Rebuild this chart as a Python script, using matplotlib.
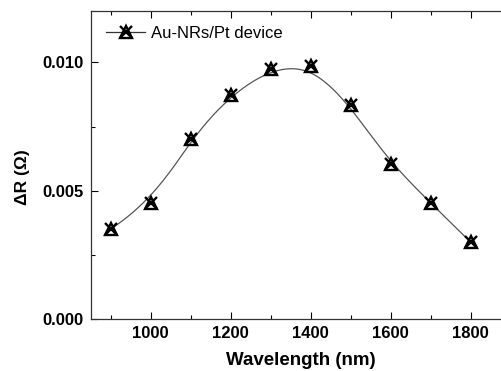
import numpy as np
import matplotlib
matplotlib.use("Agg")
import matplotlib.pyplot as plt
from matplotlib.ticker import MultipleLocator, FormatStrFormatter

plt.rcParams['font.family'] = ['Liberation Sans', 'DejaVu Sans']

wavelength = [900, 1000, 1100, 1200, 1300, 1400, 1500, 1600, 1700, 1800]
delta_r = [0.00350, 0.00452, 0.00702, 0.00871, 0.00974, 0.00987, 0.00832, 0.00602, 0.00453, 0.00300]
label = "Au-NRs/Pt device"

x = np.array(wavelength, dtype=float)
y = np.array(delta_r)


def bspline(px, py, k=3, num=400):
    # clamped uniform B-spline using the data points as control points
    n = len(px)
    knots = np.concatenate([np.zeros(k), np.arange(n - k + 1), np.full(k, n - k)]).astype(float)
    t = np.linspace(0, n - k, num)
    t[-1] -= 1e-9

    def basis(i, d, tt):
        if d == 0:
            return ((knots[i] <= tt) & (tt < knots[i + 1])).astype(float)
        a = knots[i + d] - knots[i]
        b = knots[i + d + 1] - knots[i + 1]
        left = (tt - knots[i]) / a * basis(i, d - 1, tt) if a > 0 else 0
        right = (knots[i + d + 1] - tt) / b * basis(i + 1, d - 1, tt) if b > 0 else 0
        return left + right

    B = np.array([basis(i, k, t) for i in range(n)])
    return B.T @ px, B.T @ py


xs, ys = bspline(x, y)

fig = plt.figure(figsize=(5.01, 3.71), dpi=100)
ax = fig.add_axes([90.5 / 501, 52 / 371, 420 / 501, 308 / 371])

ax.plot(xs, ys, color='#555555', lw=0.9, zorder=2)
mk = dict(ls='none', ms=9, mec='black', mew=1.7, zorder=3)
ax.plot(x, y, marker='^', mfc='none', **mk)
ax.plot(x, y, marker='x', **mk)

h_line, = ax.plot([], [], color='#333333', lw=0.9, marker='^', ms=9, mfc='none',
                  mec='black', mew=1.7)
h_x, = ax.plot([], [], ls='none', marker='x', ms=9, mec='black', mew=1.7)
ax.legend([(h_line, h_x)], [label], loc='upper left', frameon=False, fontsize=12,
          handlelength=2.3, handletextpad=0.4, borderaxespad=0.3,
          bbox_to_anchor=(0.01, 0.99))

ax.set_xlim(850, 1900)
ax.set_ylim(0, 0.012)
ax.set_xticks([1000, 1200, 1400, 1600, 1800])
ax.xaxis.set_minor_locator(MultipleLocator(100))
ax.yaxis.set_major_locator(MultipleLocator(0.005))
ax.yaxis.set_minor_locator(MultipleLocator(0.0025))
ax.yaxis.set_major_formatter(FormatStrFormatter('%.3f'))
ax.tick_params(which='both', direction='in', top=True, right=True, width=0.8)
ax.tick_params(which='major', length=5, labelsize=12, pad=5)
ax.tick_params(which='minor', length=3)
for t in ax.get_xticklabels() + ax.get_yticklabels():
    t.set_fontweight('bold')
for s in ax.spines.values():
    s.set_linewidth(0.9)
    s.set_color('#333333')

ax.set_xlabel("Wavelength (nm)", fontsize=13.5, fontweight='bold', labelpad=8)
ax.set_ylabel("ΔR (Ω)", fontsize=12.5, fontweight='bold')
ax.yaxis.set_label_coords(-0.143, 0.46)

fig.savefig("out.png", dpi=100)
